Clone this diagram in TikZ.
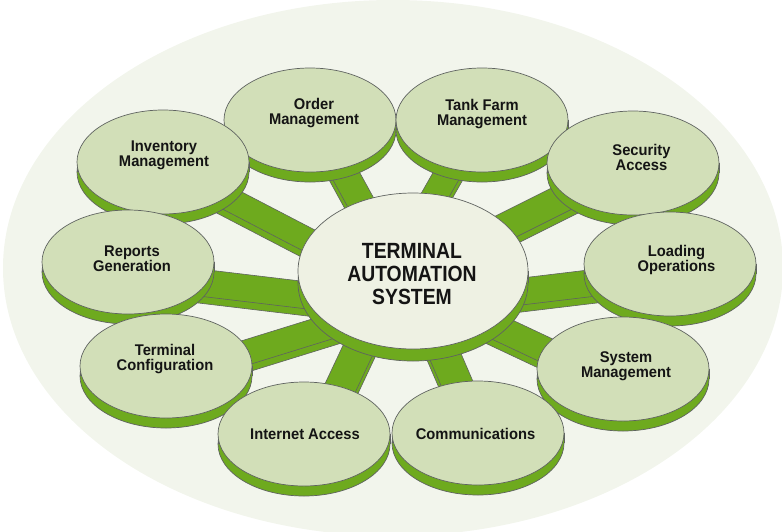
\documentclass[tikz,border=0pt]{standalone}
\usepackage{fontspec}
\setmainfont{Liberation Sans}
\newfontfamily\satfont[FakeStretch=0.95]{Liberation Sans}
\newfontfamily\ctrfont[FakeStretch=0.88]{Liberation Sans}
\usetikzlibrary{shapes.geometric,calc}
\pgfdeclarelayer{bg}
\pgfdeclarelayer{spokes}
\pgfdeclarelayer{rims}
\pgfsetlayers{bg,spokes,rims,main}
\definecolor{bgc}{HTML}{F2F5EC}
\definecolor{face}{HTML}{D2DFB8}
\definecolor{cface}{HTML}{EEF1E3}
\definecolor{grn}{HTML}{6EAA1E}
\definecolor{edge}{HTML}{5F6360}
\definecolor{ink}{HTML}{141414}
\tikzset{
  sat/.style={ellipse, fill=face, draw=edge, line width=0.7pt, minimum width=172pt, minimum height=104pt, inner sep=0pt, outer sep=0pt},
  ctr/.style={ellipse, fill=cface, draw=edge, line width=0.7pt, minimum width=230pt, minimum height=156pt, inner sep=0pt, outer sep=0pt},
  lbl/.style={font=\satfont\bfseries\fontsize{15.5pt}{15pt}\selectfont, align=center, text=ink, inner sep=0pt},
  clbl/.style={font=\ctrfont\bfseries\fontsize{22pt}{23pt}\selectfont, align=center, text=ink, inner sep=0pt},
  rimc/.style={fill=grn, draw=edge, line width=0.7pt},
  edgeline/.style={draw=edge, line width=0.7pt},
  spokec/.style={fill=grn, draw=edge, line width=0.6pt, line join=round}
}
% rim under an ellipse node: node, depth, x radius, y radius
\newcommand\rimof[4]{%
  \begin{pgfonlayer}{rims}
    \path[rimc] ([yshift=-#2pt]#1.center) ellipse [x radius=#3pt, y radius=#4pt];
    \fill[grn] ([xshift=-#3pt]#1.center) rectangle ([xshift=#3pt,yshift=-#2pt]#1.center);
    \draw[edgeline] ([xshift=-#3pt]#1.center) -- ++(0pt,-#2pt)
                    ([xshift=#3pt]#1.center) -- ++(0pt,-#2pt);
  \end{pgfonlayer}}
% 3D bar from node #1 (offset #2) to node #3 (offset #4), half width #5
\newcommand\spoke[5]{%
  \coordinate (sA) at ($(#1.center)+(#2)$);
  \coordinate (sB) at ($(#3.center)+(#4)$);
  \begin{pgfonlayer}{spokes}
    \path[spokec, transform canvas={yshift=-7pt}]
      ($(sA)!#5pt!90:(sB)$) -- ($(sB)!#5pt!-90:(sA)$) --
      ($(sB)!#5pt!90:(sA)$) -- ($(sA)!#5pt!-90:(sB)$) -- cycle;
    \path[spokec]
      ($(sA)!#5pt!90:(sB)$) -- ($(sB)!#5pt!-90:(sA)$) --
      ($(sB)!#5pt!90:(sA)$) -- ($(sA)!#5pt!-90:(sB)$) -- cycle;
  \end{pgfonlayer}}
\begin{document}
\begin{tikzpicture}[x=1pt,y=-1pt]
\useasboundingbox (0,0) rectangle (782,531);
\begin{pgfonlayer}{bg}
  \fill[bgc] (393,268) ellipse [x radius=390pt, y radius=268pt];
\end{pgfonlayer}
% faces (top to bottom so lower ones overlap upper rims)
\node[ctr] (tas) at (413,271) {};
\node[sat] (om)  at (310,120) {};
\node[sat] (tf)  at (482,120) {};
\node[sat] (inv) at (163,162) {};
\node[sat] (sec) at (633,163) {};
\node[sat] (rep) at (128,262) {};
\node[sat] (lo)  at (670,264) {};
\node[sat] (tc)  at (166,366) {};
\node[sat] (sm)  at (623,369) {};
\node[sat] (com) at (478,433) {};
\node[sat] (ia)  at (304,434) {};
% rims
\rimof{tas}{12}{115}{78}
\rimof{om}{10}{86}{52}
\rimof{tf}{10}{86}{52}
\rimof{inv}{10}{86}{52}
\rimof{sec}{10}{86}{52}
\rimof{rep}{10}{86}{52}
\rimof{lo}{10}{86}{52}
\rimof{tc}{10}{86}{52}
\rimof{sm}{10}{86}{52}
\rimof{com}{10}{86}{52}
\rimof{ia}{10}{86}{52}
% spokes
\spoke{om}{21.9,30}{tas}{-39.9,-46}{13.5}
\spoke{tf}{-21.1,30}{tas}{10.8,-56}{13}
\spoke{inv}{37,21.8}{tas}{-53,-4}{12}
\spoke{sec}{-43,21.4}{tas}{67,-31.6}{14}
\spoke{rep}{52,18.2}{tas}{-53,30.7}{13.5}
\spoke{lo}{-50,15.7}{tas}{57,26.7}{13.4}
\spoke{tc}{34,0.8}{tas}{-63,49.3}{12.5}
\spoke{sm}{-53,-7.5}{tas}{57,43.5}{13}
\spoke{ia}{25.8,-24}{tas}{-45.6,59}{15.5}
\spoke{com}{-9.6,-23}{tas}{21,59}{15.5}
% labels
\node[clbl] (tast) at (412,274.5) {TERMINAL\\AUTOMATION\\SYSTEM};
\node[lbl] (omt)  at (314,113.5) {Order\\Management};
\node[lbl] (tft)  at (482,114) {Tank Farm\\Management};
\node[lbl] (invt) at (164,155) {Inventory\\Management};
\node[lbl] (sect) at (641.5,157) {Security\\Access};
\node[lbl] (rept) at (132,258.7) {Reports\\Generation};
\node[lbl] (lot)  at (676.5,259.7) {Loading\\Operations};
\node[lbl] (tct)  at (165,359) {Terminal\\Configuration};
\node[lbl] (smt)  at (626,365.8) {System\\Management};
\node[lbl] (iat)  at (305,433.8) {Internet Access};
\node[lbl] (comt) at (475.5,433.8) {Communications};
\end{tikzpicture}
\end{document}
